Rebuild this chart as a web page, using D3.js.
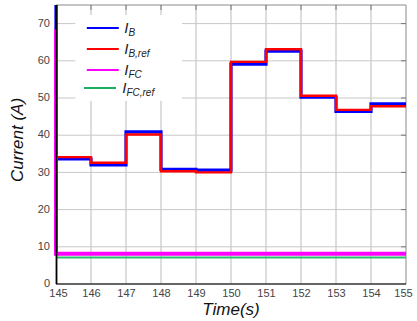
<!DOCTYPE html>
<html>
<head>
<meta charset="utf-8">
<script src="https://cdn.jsdelivr.net/npm/d3@7"></script>
<style>
  body { margin: 0; background: #fff; }
  svg { display: block; font-family: "Liberation Sans", Arial, sans-serif; }
</style>
</head>
<body>
<figure id="chart" style="margin:0"></figure>
<script>
// step start times (s)
const times = [145, 146, 147, 148, 149, 150, 151, 152, 153, 154];
const endTime = 155;
// battery current and its reference (A)
const ib    = [33.6, 32.0, 40.9, 30.8, 30.6, 59.1, 62.6, 50.2, 46.4, 48.4];
const ibRef = [34.1, 32.6, 40.2, 30.3, 30.0, 59.7, 63.1, 50.6, 46.8, 47.8];
// fuel cell current and its reference (A)
const ifc    = [8.1, 8.1, 8.1, 8.1, 8.1, 8.1, 8.1, 8.1, 8.1, 8.1];
const ifcRef = [7.1, 7.1, 7.1, 7.1, 7.1, 7.1, 7.1, 7.1, 7.1, 7.1];
// transient values just before t = 145 (leaves the vertical strokes on the left edge)
const ibStart = 80;
const ifcStart = 68.5;

const xTicks = [145, 146, 147, 148, 149, 150, 151, 152, 153, 154, 155];
const yTicks = [0, 10, 20, 30, 40, 50, 60, 70];

const legendItems = [
  { name: "I", sub: "B", color: "#0000ff" },
  { name: "I", sub: "B,ref", color: "#ff0000" },
  { name: "I", sub: "FC", color: "#ff00ff" },
  { name: "I", sub: "FC,ref", color: "#00a651" }
];

const W = 417, H = 321;
const margin = { top: 5, right: 11, bottom: 37, left: 56 };
const width = W - margin.left - margin.right;
const height = H - margin.top - margin.bottom;

const svg = d3.select("figure#chart")
  .append("svg")
  .attr("width", W)
  .attr("height", H);

const g = svg.append("g")
  .attr("transform", `translate(${margin.left},${margin.top})`);

const x = d3.scaleLinear().domain([145, 155]).range([0, width]);
const y = d3.scaleLinear().domain([0, 75]).range([height, 0]);

// grid
g.append("g").selectAll("line")
  .data(xTicks.slice(1, -1))
  .enter().append("line")
  .attr("x1", d => x(d)).attr("x2", d => x(d))
  .attr("y1", 0).attr("y2", height)
  .attr("stroke", "#d2d2d2").attr("stroke-width", 1.5);

g.append("g").selectAll("line")
  .data(yTicks.slice(1))
  .enter().append("line")
  .attr("x1", 0).attr("x2", width)
  .attr("y1", d => y(d)).attr("y2", d => y(d))
  .attr("stroke", "#c8c8c8").attr("stroke-width", 1);

// frame: top and right grey with inward ticks
g.append("path")
  .attr("d", `M0,0H${width}V${height}`)
  .attr("fill", "none").attr("stroke", "#8a8a8a").attr("stroke-width", 1);

g.append("g").selectAll("line")
  .data(xTicks.slice(1, -1))
  .enter().append("line")
  .attr("x1", d => x(d)).attr("x2", d => x(d))
  .attr("y1", 0).attr("y2", 5)
  .attr("stroke", "#777");

g.append("g").selectAll("line")
  .data(yTicks.slice(1))
  .enter().append("line")
  .attr("x1", width - 5).attr("x2", width)
  .attr("y1", d => y(d)).attr("y2", d => y(d))
  .attr("stroke", "#777");

// legend background hides grid behind it
g.append("rect")
  .attr("x", x(145.55)).attr("y", 10)
  .attr("width", x(148.6) - x(145.55)).attr("height", 86)
  .attr("fill", "#fff");

// clip data to plot (slightly extended on the left)
svg.append("defs").append("clipPath").attr("id", "clip")
  .append("rect").attr("x", -3).attr("y", 0).attr("width", width + 3).attr("height", height);

const line = d3.line()
  .x(d => x(d.t))
  .y(d => y(d.v))
  .curve(d3.curveStepAfter);

function steps(vals, start) {
  const pts = [];
  if (start !== undefined) pts.push({ t: times[0], v: start });
  vals.forEach((v, i) => pts.push({ t: times[i], v: v }));
  pts.push({ t: endTime, v: vals[vals.length - 1] });
  return pts;
}

const plot = g.append("g").attr("clip-path", "url(#clip)");

const series = [
  { pts: steps(ib, ibStart), color: "#0000ff", w: 3.2 },
  { pts: steps(ibRef), color: "#ff0000", w: 2.4 },
  { pts: steps(ifcRef), color: "#2dbe6c", w: 2 },
  { pts: steps(ifc, ifcStart), color: "#ff00ff", w: 4 }
];

series.forEach(s => {
  plot.append("path")
    .datum(s.pts)
    .attr("fill", "none")
    .attr("stroke", s.color)
    .attr("stroke-width", s.w)
    .attr("d", line);
});

// left and bottom axes
const yAxis = g.append("g")
  .call(d3.axisLeft(y).tickValues(yTicks).tickSize(0).tickPadding(6));
yAxis.select(".domain").remove();
yAxis.selectAll("text").attr("font-size", 11).attr("fill", "#444").attr("dy", "0.25em");

const xAxis = g.append("g")
  .attr("transform", `translate(0,${height})`)
  .call(d3.axisBottom(x).tickValues(xTicks).tickSize(0).tickPadding(5).tickFormat(d3.format("d")));
xAxis.select(".domain").remove();
xAxis.selectAll("text").attr("font-size", 11).attr("fill", "#444")
  .attr("dx", d => d === 145 ? 2 : d === 155 ? -3 : 0);

g.append("line")
  .attr("x1", 0).attr("x2", width).attr("y1", height).attr("y2", height)
  .attr("stroke", "#333").attr("stroke-width", 1.5);
g.append("line")
  .attr("x1", 0.5).attr("x2", 0.5).attr("y1", 0).attr("y2", height)
  .attr("stroke", "#000").attr("stroke-width", 1.8);

// legend
const leg = g.append("g");
legendItems.forEach((d, i) => {
  const ly = [23, 44, 65, 83][i];
  const lx0 = i === 3 ? x(145.8) : x(145.88);
  leg.append("line")
    .attr("x1", lx0).attr("x2", lx0 + 32)
    .attr("y1", ly).attr("y2", ly)
    .attr("stroke", d.color).attr("stroke-width", 1.8);
  const t = leg.append("text")
    .attr("x", x(146.95) - (i === 3 ? 2 : 0)).attr("y", ly + 5)
    .attr("font-style", "italic").attr("fill", "#222");
  t.append("tspan").attr("font-size", 15).text(d.name);
  t.append("tspan").attr("font-size", 10).attr("dy", 3).text(d.sub);
});

// axis titles
svg.append("text")
  .attr("x", margin.left + width / 2).attr("y", 315)
  .attr("text-anchor", "middle")
  .attr("font-size", 17).attr("font-style", "italic").attr("fill", "#111")
  .text("Time(s)");

svg.append("text")
  .attr("transform", `translate(23,140) rotate(-90)`)
  .attr("text-anchor", "middle")
  .attr("font-size", 17).attr("font-style", "italic").attr("fill", "#111")
  .text("Current (A)");
</script>
</body>
</html>
